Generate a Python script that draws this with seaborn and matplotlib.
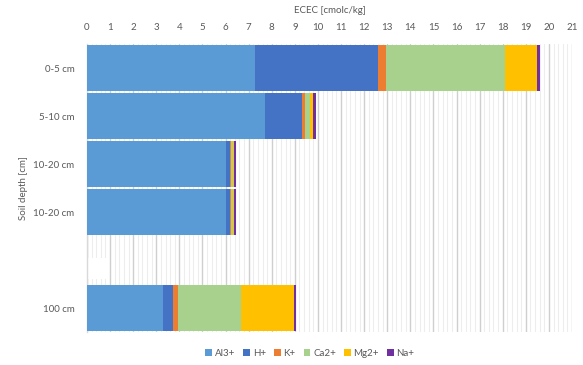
import numpy as np
import pandas as pd
import matplotlib
matplotlib.use("Agg")
import matplotlib.pyplot as plt
from matplotlib.patches import Patch, Rectangle
import seaborn as sns

# Soil depth layers (two separate 10-20 cm samples) and exchangeable cations, cmolc/kg
layers = ["0-5 cm", "5-10 cm", "10-20 cm", "10-20 cm", "100 cm"]
layer_keys = ["d0_5", "d5_10", "d10_20a", "d10_20b", "d100"]
axis_order = ["d0_5", "d5_10", "d10_20a", "d10_20b", "blank", "d100"]
axis_labels = ["0-5 cm", "5-10 cm", "10-20 cm", "10-20 cm", "", "100 cm"]

cations = ["Al3+", "H+", "K+", "Ca2+", "Mg2+", "Na+"]
al3 = [7.26, 7.71, 6.00, 6.00, 3.27]
h = [5.34, 1.59, 0.19, 0.19, 0.47]
k = [0.36, 0.12, 0.06, 0.06, 0.20]
ca2 = [5.14, 0.25, 0.07, 0.07, 2.71]
mg2 = [1.40, 0.13, 0.06, 0.06, 2.32]
na = [0.10, 0.10, 0.07, 0.07, 0.07]

colors = ["#5B9BD5", "#4472C4", "#ED7D31", "#A9D18E", "#FFC000", "#7030A0"]
text_grey = "#595959"

df = pd.DataFrame({"key": layer_keys, "Al3+": al3, "H+": h, "K+": k,
                   "Ca2+": ca2, "Mg2+": mg2, "Na+": na})
cum = df[cations].cumsum(axis=1)
cum["key"] = df["key"]

sns.set_theme(style="white")
plt.rcParams["font.family"] = ["Lato", "DejaVu Sans"]

fig = plt.figure(figsize=(5.83, 3.65), dpi=100)
ax = fig.add_axes([87 / 583, 1 - 332 / 365, (572 - 87) / 583, (332 - 44) / 365])

# stacked bars: draw running totals from the outermost segment inwards
for name, col in zip(cations[::-1], colors[::-1]):
    sns.barplot(data=cum, x=name, y="key", order=axis_order, orient="h",
                color=col, saturation=1, width=0.955, errorbar=None,
                linewidth=0, ax=ax, zorder=3)

ax.set_xlim(0, 21)
ax.set_ylim(5.5, -0.5)
ax.xaxis.tick_top()
ax.xaxis.set_label_position("top")
ax.set_xticks(np.arange(0, 22, 1))
ax.set_xticks(np.arange(0, 21.01, 0.2), minor=True)
ax.set_yticks(range(len(axis_order)))
ax.set_yticklabels(axis_labels)
ax.tick_params(axis="both", which="both", length=0, labelsize=7, colors=text_grey)
ax.tick_params(axis="x", pad=9)
ax.tick_params(axis="y", pad=9)
ax.grid(True, axis="x", which="major", color="#CFCFCF", linewidth=1.0, zorder=0)
ax.grid(True, axis="x", which="minor", color="#EDEDED", linewidth=0.8, zorder=0)
ax.set_axisbelow(True)

for side in ["top", "right", "bottom"]:
    ax.spines[side].set_visible(False)
ax.spines["left"].set_color("#D9D9D9")
ax.spines["left"].set_linewidth(1.0)

# break marker in the empty slot between 10-20 cm and 100 cm
ax.add_patch(Rectangle((-0.2, 3.95), 1.05, 0.45, facecolor="white",
                       edgecolor="none", zorder=2.5, clip_on=False))

ax.set_xlabel("ECEC [cmolc/kg]", fontsize=7, color=text_grey, labelpad=7)
ax.set_ylabel("Soil depth [cm]", fontsize=7, color=text_grey, labelpad=4)

handles = [Patch(facecolor=c, edgecolor="none", label=n) for n, c in zip(cations, colors)]
fig.legend(handles=handles, loc="center", bbox_to_anchor=(310 / 583, 12 / 365),
           ncol=6, frameon=False, fontsize=7, labelcolor=text_grey,
           handlelength=0.7, handleheight=0.7, handletextpad=0.3, columnspacing=0.8)

fig.savefig("out.png", dpi=100)
